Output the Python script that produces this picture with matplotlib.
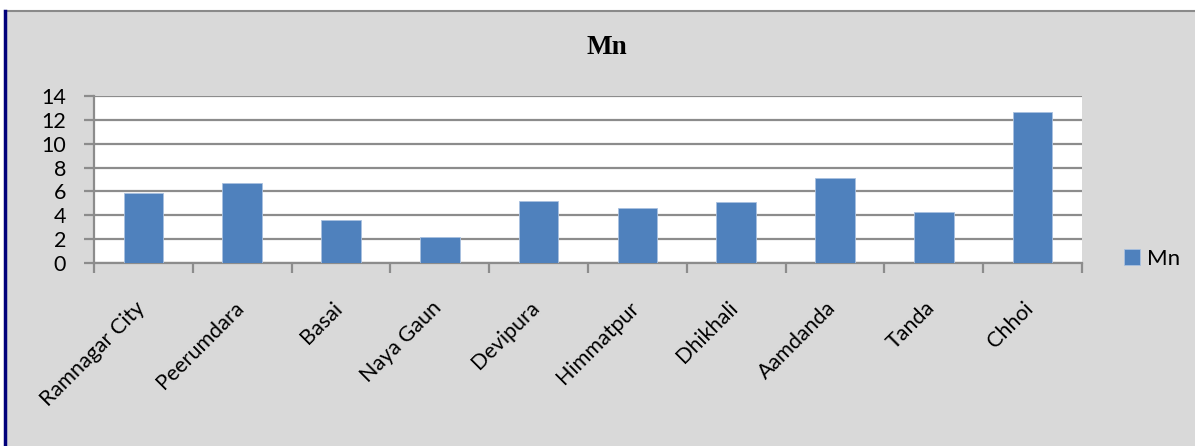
import matplotlib.pyplot as plt
from matplotlib.lines import Line2D
from matplotlib.transforms import ScaledTranslation

# Mn concentration per site
sites = ["Ramnagar City", "Peerumdara", "Basai", "Naya Gaun", "Devipura",
         "Himmatpur", "Dhikhali", "Aamdanda", "Tanda", "Chhoi"]
mn_values = [5.86, 6.74, 3.6, 2.21, 5.16, 4.6, 5.1, 7.11, 4.24, 12.65]
y_ticks = [0, 2, 4, 6, 8, 10, 12, 14]

bg = "#d9d9d9"
bar_color = "#4f81bd"
grid_color = "#8c8c8c"

fig = plt.figure(figsize=(11.95, 4.46), dpi=100)
fig.patch.set_facecolor("white")

# grey chart area with a border line on top and a dark one on the left
W, H = 1195, 446
fig.patches.append(plt.Rectangle((5 / W, 0), 1 - 5 / W, 1 - 11 / H,
                                 transform=fig.transFigure, facecolor=bg,
                                 edgecolor="none", zorder=-5))
fig.add_artist(Line2D([5 / W, 1], [1 - 11 / H, 1 - 11 / H],
                      transform=fig.transFigure, color="#8a8a8a", lw=1.5, zorder=-4))
fig.add_artist(Line2D([4.5 / W, 4.5 / W], [0, 1 - 11 / H],
                      transform=fig.transFigure, color="#00007a", lw=2.5, zorder=-4))

left, right, top, bottom = 94, 1082, 96, 263
ax = fig.add_axes([left / W, 1 - bottom / H, (right - left) / W, (bottom - top) / H])
ax.set_facecolor("white")

x = range(len(sites))
ax.bar(x, mn_values, width=0.4, color=bar_color, edgecolor="#a9c1e0",
       linewidth=0.6, zorder=3, label="Mn")

ax.set_xlim(-0.5, len(sites) - 0.5)
ax.set_ylim(0, 14)
ax.set_yticks(y_ticks)
ax.yaxis.grid(True, color=grid_color, linewidth=1.6, zorder=1)
ax.set_axisbelow(True)

for side in ["top", "right"]:
    ax.spines[side].set_visible(False)
for side in ["left", "bottom"]:
    ax.spines[side].set_color(grid_color)
    ax.spines[side].set_linewidth(1.6)

# category boundaries carry the x ticks, labels sit under the bar centers
ax.set_xticks([i - 0.5 for i in range(len(sites) + 1)])
ax.set_xticklabels([])
ax.set_xticks(list(x), minor=True)
ax.set_xticklabels(sites, minor=True, rotation=45, ha="right", va="top",
                   rotation_mode="anchor", fontsize=15.5, family="Lato")
ax.tick_params(axis="x", which="major", length=7, width=1.6, color=grid_color,
               direction="out")
ax.tick_params(axis="x", which="minor", length=0, pad=20)
ax.tick_params(axis="y", length=7, width=1.6, color=grid_color, direction="out",
               labelsize=15.5, pad=13)
for lab in ax.get_yticklabels():
    lab.set_family("Lato")

# nudge the slanted labels a little left and down
shift = ScaledTranslation(-0.09, -0.07, fig.dpi_scale_trans)
for lab in ax.xaxis.get_minorticklabels():
    lab.set_transform(lab.get_transform() + shift)

fig.text(607 / W, 1 - 48 / H, "Mn", ha="center", va="center",
         fontsize=19.5, fontweight="bold", family="Liberation Serif")

leg = fig.legend(loc="center left", bbox_to_anchor=(1113 / W, 1 - 259 / H),
                 frameon=False, prop={"family": "Lato", "size": 16},
                 handlelength=0.7, handleheight=0.7, handletextpad=0.35,
                 borderpad=0)

fig.savefig("out.png", dpi=100, facecolor=fig.get_facecolor())
